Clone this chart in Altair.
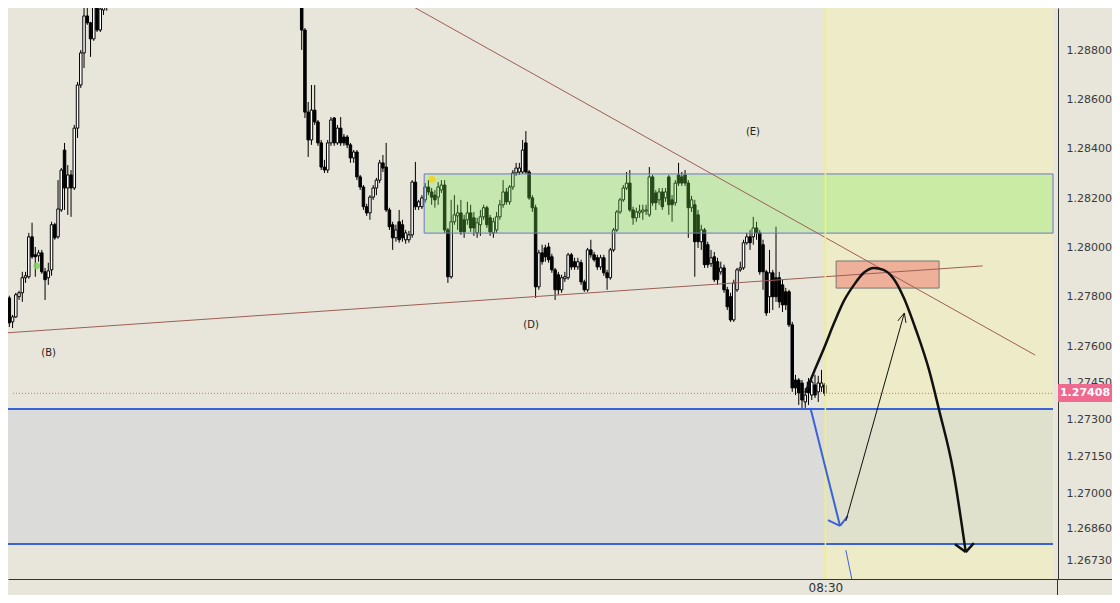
import altair as alt
import pandas as pd

# ---------------- candle data (prices in 1e-5 units) ----------------
# first visible run of candles (bar index 0..32)
A_start = 0
A_open = [127962,127795,127698,127718,127800,127816,127877,127881,128043,127970,127966,127978,127901,127877,127909,128092,128043,128152,128395,128241,128294,128241,128484,128659,128789,128939,128911,128846,128988,128882,128963,128980,128990]
A_high = [128023,127804,127726,127816,127824,127901,127901,128059,128100,128002,127990,127990,127917,127938,128104,128100,128273,128322,128424,128334,128314,128497,128671,128801,129004,129010,128915,129016,129016,128984,129010,129020,129080]
A_low = [127775,127677,127673,127714,127787,127779,127856,127873,127954,127881,127942,127893,127787,127848,127885,128031,128035,128144,128152,128132,128124,128233,128444,128647,128728,128903,128773,128838,128874,128874,128943,128960,128975]
A_close = [127787,127694,127718,127808,127816,127877,127885,128043,127962,127962,127978,127901,127869,127905,128092,128039,128156,128314,128241,128294,128241,128484,128659,128789,128939,128911,128846,128988,128882,128967,128984,128995,129060]

# second visible run of candles (bar index 91..252)
B_start = 91
B_open = [129085,128882,128549,128436,128557,128509,128424,128326,128314,128424,128525,128424,128484,128448,128448,128416,128363,128387,128286,128245,
          128165,128140,128204,128241,128273,128343,128326,128152,128092,128039,128104,128092,128031,128031,128051,128265,128165,128165,128193,128245,
          128225,128212,128204,128233,128253,128071,127881,128104,128128,128140,128112,128112,128140,128120,128059,128092,128124,128161,128120,128059,
          128071,128124,128173,128225,128185,128245,128302,128306,128306,128424,128306,128201,128161,127840,127978,127998,128002,127962,127909,127889,
          127828,127873,127877,127970,127942,127921,127938,127860,127828,127990,127970,127958,127921,127958,127897,127877,127990,128071,128144,128193,
          128241,128261,128152,128120,128140,128144,128148,128132,128286,128221,128193,128225,128201,128286,128193,128181,128294,128286,128294,128261,
          128161,128173,128132,128023,128071,128011,127934,127962,127942,127901,127917,127828,127800,127706,127828,127909,127917,128019,128043,128043,
          128079,128059,128011,127901,127800,127897,127877,127877,127848,127820,127820,127686,127462,127462,127450,127373,127454,127401,127442,127414,
          127434,127442]
B_high = [129100,128890,128590,128659,128659,128517,128436,128355,128436,128529,128529,128497,128529,128460,128456,128424,128395,128395,128294,128253,
          128177,128212,128253,128282,128355,128375,128424,128161,128104,128092,128152,128112,128071,128067,128273,128347,128193,128212,128261,128273,
          128241,128233,128265,128273,128273,128079,128193,128212,128173,128193,128132,128185,128173,128144,128120,128152,128173,128169,128132,128120,
          128144,128193,128273,128241,128253,128314,128343,128343,128436,128472,128314,128212,128173,127990,128011,128011,128019,127974,127917,127901,
          127889,127901,127978,127978,127958,127958,127950,127869,127998,128031,127982,127970,127970,127970,127909,127998,128079,128152,128201,128253,
          128306,128314,128165,128161,128173,128173,128173,128326,128294,128233,128241,128241,128241,128294,128212,128273,128343,128306,128314,128273,
          128209,128193,128152,128092,128079,128023,127990,127982,127958,127942,127930,127840,127816,127869,127917,127942,128031,128059,128071,128124,
          128104,128071,128031,127909,127990,127909,128084,127901,127869,127836,127828,127698,127483,127470,127462,127430,127470,127462,127483,127479,
          127503,127450]
B_low = [128801,128525,128367,128416,128497,128412,128314,128302,128302,128412,128412,128416,128412,128412,128403,128343,128343,128273,128233,128152,
         128128,128112,128193,128212,128261,128306,128144,128071,127990,128023,128019,128023,128015,128019,128039,128152,128152,128156,128181,128212,
         128173,128161,128173,128221,128059,127856,127873,128092,128071,128051,128039,128092,128063,128047,128039,128047,128112,128079,128047,128039,
         128059,128112,128161,128173,128173,128233,128290,128294,128298,128298,128193,128144,127795,127828,127930,127942,127938,127897,127787,127808,
         127816,127860,127869,127909,127909,127909,127848,127820,127820,127958,127942,127909,127909,127885,127828,127869,127982,128063,128136,128185,
         128233,128144,128092,128104,128120,128112,128132,128124,128169,128152,128173,128152,128185,128132,128104,128169,128249,128249,128249,128039,
         128144,127881,127998,127990,127917,127917,127921,127860,127848,127889,127816,127746,127698,127698,127820,127901,127909,128011,127990,128011,
         128031,127889,127828,127722,127734,127746,127779,127755,127738,127746,127677,127414,127401,127361,127340,127349,127361,127381,127389,127373,
         127414,127397]
B_close = [128882,128549,128436,128557,128509,128424,128326,128314,128424,128517,128424,128484,128424,128424,128416,128363,128387,128286,128245,128165,
           128140,128204,128241,128273,128343,128322,128152,128084,128039,128071,128031,128039,128059,128051,128265,128165,128185,128201,128245,128225,
           128204,128193,128245,128253,128071,127881,128104,128132,128140,128063,128063,128140,128079,128079,128100,128124,128161,128092,128063,128104,
           128124,128173,128225,128185,128245,128302,128322,128322,128395,128306,128201,128161,127840,127978,127942,127962,127950,127909,127828,127828,
           127877,127881,127970,127921,127921,127942,127860,127828,127990,127970,127950,127921,127958,127897,127877,127990,128071,128144,128193,128241,
           128261,128152,128120,128144,128148,128152,128152,128286,128181,128181,128225,128165,128225,128173,128173,128261,128261,128261,128261,128161,
           128193,128023,128023,128071,127930,127930,127958,127869,127869,127917,127828,127759,127706,127856,127909,127917,128019,128043,128019,128079,
           128059,127901,127901,127734,127897,127800,127800,127779,127767,127767,127686,127430,127430,127410,127381,127401,127410,127454,127401,127450,
           127450,127408]

# ---------------- axis tick values / labels ----------------
PRICE_TICKS = [1.29, 1.288, 1.286, 1.284, 1.282, 1.28, 1.278, 1.276, 1.2745, 1.273, 1.2715, 1.27, 1.2686, 1.2673]
TIME_TICK = 252.2
TIME_LABEL = "08:30"
LAST_PRICE = 1.27408
LAST_LABEL = "1.27408"

# visible window (bar index / price)
X_DOMAIN = [2.134, 322.26]
Y_DOMAIN = [1.266548, 1.289713]

# ---------------- drawings (bar index, price) ----------------
green_zone = dict(x=128.7, x2=322.26, y=1.28058, y2=1.28298)
target_zone = dict(x=255.5, x2=287.2, y=1.27835, y2=1.27945)
support_zone = dict(x=-2.0, x2=322.26, y=1.26797, y2=1.27344)
future_zone = dict(x=252.2, x2=322.26, y=1.266548, y2=1.289713)

seg_x1 = [121.6, -0.3, -0.3, -0.3, 252.2, 247.6, 253.0, 259.1, 258.5, 258.5, 274.5, 277.0, 292.1, 297.9]
seg_x2 = [316.8, 300.6, 322.26, 322.26, 252.2, 256.7, 256.7, 256.7, 260.4, 276.5, 276.5, 276.5, 295.4, 295.4]
seg_y1 = [1.29004, 1.27653, 1.27344, 1.26797, 1.266548, 1.27349, 1.26894, 1.26910, 1.26772, 1.26890, 1.27702, 1.27694, 1.26796, 1.26800]
seg_y2 = [1.27563, 1.27925, 1.27344, 1.26797, 1.289713, 1.26870, 1.26870, 1.26870, 1.26650, 1.27734, 1.27734, 1.27734, 1.26764, 1.26764]
seg_color = ["#9c5f55", "#9c5f55", "#3a63d8", "#3a63d8", "#f6f35e", "#3a63d8", "#3a63d8", "#3a63d8", "#3a63d8",
             "#111111", "#111111", "#111111", "#111111", "#111111"]
seg_width = [1, 1, 2, 2, 1.5, 2, 2, 2, 1, 1, 1, 1, 2.5, 2.5]

curve_x = [246.0, 248.8, 251.8, 254.9, 257.9, 261.0, 264.0, 267.1, 270.1, 273.2, 276.2, 280.2, 284.1, 287.2, 291.5, 295.4]
curve_p = [1.27410, 1.27499, 1.27592, 1.27694, 1.27783, 1.27848, 1.27897, 1.27917, 1.27909, 1.27873, 1.27800, 1.27661, 1.27503, 1.27340, 1.27097, 1.26764]

label_text = ["(B)", "(D)", "(E)"]
label_x = [13.1, 161.6, 229.9]
label_p = [1.27572, 1.27686, 1.28468]

dot_x = [9.45, 131.1]
dot_p = [1.27925, 1.28277]
dot_color = ["#82d062", "#f3d21c"]

# ---------------- build tables ----------------
rows = []
for start, o, h, l, c in [(A_start, A_open, A_high, A_low, A_close), (B_start, B_open, B_high, B_low, B_close)]:
    for k in range(len(o)):
        rows.append(dict(bar=start + k, open=o[k] / 1e5, high=h[k] / 1e5, low=l[k] / 1e5, close=c[k] / 1e5,
                         fill="#ffffff" if c[k] >= o[k] else "#000000"))
candles = pd.DataFrame(rows)

XS = alt.Scale(domain=X_DOMAIN, nice=False, zero=False)
YS = alt.Scale(domain=Y_DOMAIN, nice=False, zero=False)
XAX = alt.Axis(values=[TIME_TICK], labelExpr="'" + TIME_LABEL + "'", ticks=False, tickSize=0, grid=False, title=None,
               labelPadding=3, labelFont="DejaVu Sans", labelFontSize=12, labelColor="#333333",
               domainColor="#333333", labelFlush=False)
YAX = alt.Axis(orient="right", values=PRICE_TICKS, format=".5f", ticks=False, tickSize=0, grid=False, title=None,
               labelPadding=8, labelFont="DejaVu Sans", labelFontSize=11, labelColor="#3a3a3a",
               domainColor="#333333", labelOverlap=False, labelFlush=False)


def X(f):
    return alt.X(f, type="quantitative", scale=XS, axis=XAX)


def Y(f):
    return alt.Y(f, type="quantitative", scale=YS, axis=YAX)


future = alt.Chart(pd.DataFrame([future_zone])).mark_rect(color="#edebc8").encode(
    x=X("x"), x2="x2", y=Y("y"), y2="y2")
support = alt.Chart(pd.DataFrame([support_zone])).mark_rect(color="#acbdda", opacity=0.22, clip=True).encode(
    x=X("x"), x2="x2", y=Y("y"), y2="y2")
green = alt.Chart(pd.DataFrame([green_zone])).mark_rect(
    fill="#78eb50", fillOpacity=0.3, stroke="#6f72c8", strokeWidth=1).encode(x=X("x"), x2="x2", y=Y("y"), y2="y2")
target = alt.Chart(pd.DataFrame([target_zone])).mark_rect(
    fill="#eeb098", stroke="#777777", strokeWidth=1).encode(x=X("x"), x2="x2", y=Y("y"), y2="y2")

dotted = alt.Chart(pd.DataFrame({"p": [LAST_PRICE], "a": [X_DOMAIN[0]], "b": [X_DOMAIN[1]]})).mark_rule(
    color="#e36b6b", strokeDash=[1, 2], strokeWidth=1).encode(x=X("a"), x2="b", y=Y("p"))

wicks = alt.Chart(candles).mark_rule(color="#000000", strokeWidth=1, clip=True).encode(
    x=X("bar"), y=Y("high"), y2="low")
bodies = alt.Chart(candles).mark_bar(size=2.5, stroke="#000000", strokeWidth=1, clip=True).encode(
    x=X("bar"), y=Y("open"), y2="close", fill=alt.Fill("fill:N", scale=None))

segs = pd.DataFrame(dict(x=seg_x1, x2=seg_x2, y=seg_y1, y2=seg_y2, c=seg_color, w=seg_width))
segments = alt.Chart(segs).mark_rule(clip=True).encode(
    x=X("x"), x2="x2", y=Y("y"), y2="y2",
    color=alt.Color("c:N", scale=None), strokeWidth=alt.StrokeWidth("w:Q", scale=None))

curve = alt.Chart(pd.DataFrame(dict(x=curve_x, p=curve_p))).mark_line(
    color="#111111", strokeWidth=2.5, interpolate="monotone").encode(x=X("x"), y=Y("p"))

labels = alt.Chart(pd.DataFrame(dict(t=label_text, x=label_x, p=label_p))).mark_text(
    font="DejaVu Sans", fontSize=10, color="#222222").encode(x=X("x"), y=Y("p"), text="t:N")

dots = alt.Chart(pd.DataFrame(dict(x=dot_x, p=dot_p, c=dot_color))).mark_circle(size=45, opacity=0.85).encode(
    x=X("x"), y=Y("p"), color=alt.Color("c:N", scale=None))

tag_df = pd.DataFrame(dict(p=[LAST_PRICE], t=[LAST_LABEL], lo=[1.27373], hi=[1.27446]))
tag_rect = alt.Chart(tag_df).mark_rect(color="#ee6a8e").encode(
    x=alt.value(1050), x2=alt.value(1104), y=Y("lo"), y2="hi")
tag_text = alt.Chart(tag_df).mark_text(font="DejaVu Sans", fontSize=11, fontWeight="bold", color="#ffffff").encode(
    x=alt.value(1077), y=Y("p"), text="t:N")

edge_v = alt.Chart(tag_df).mark_rule(color="#333333").encode(x=alt.value(1049.5), y=alt.value(571), y2=alt.value(587))
edge_h = alt.Chart(tag_df).mark_rule(color="#333333").encode(x=alt.value(1049), x2=alt.value(1104), y=alt.value(571.5))

chart = alt.layer(
    future, support, dotted, wicks, bodies, green, target, segments, curve, labels, dots,
    tag_rect, tag_text, edge_v, edge_h
).properties(
    width=1050, height=571,
    autosize=alt.AutoSizeParams(type="none"),
    padding={"left": 0, "top": 0, "right": 54, "bottom": 16},
).configure(background="#e8e5da").configure_view(stroke=None)

chart.save("out.html", embed_options={"renderer": "svg", "actions": False})
